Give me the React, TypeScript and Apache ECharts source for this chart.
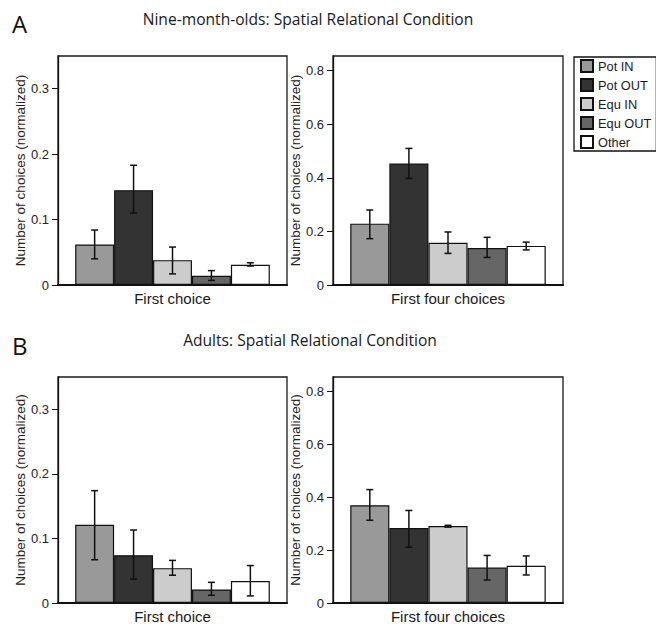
import React, { useEffect, useRef } from "react";
import * as echarts from "echarts";

const groups = ["Pot IN", "Pot OUT", "Equ IN", "Equ OUT", "Other"];
const groupColors = ["#999999", "#333333", "#cccccc", "#666666", "#ffffff"];

const infantFirst = [0.062, 0.145, 0.038, 0.014, 0.031];
const infantFirstLo = [0.040, 0.110, 0.017, 0.007, 0.029];
const infantFirstHi = [0.084, 0.183, 0.058, 0.022, 0.034];

const infantFour = [0.229, 0.454, 0.158, 0.138, 0.146];
const infantFourLo = [0.173, 0.398, 0.118, 0.103, 0.131];
const infantFourHi = [0.280, 0.510, 0.198, 0.178, 0.160];

const adultFirst = [0.121, 0.074, 0.054, 0.021, 0.034];
const adultFirstLo = [0.067, 0.037, 0.043, 0.012, 0.011];
const adultFirstHi = [0.174, 0.113, 0.066, 0.032, 0.058];

const adultFour = [0.370, 0.284, 0.291, 0.134, 0.141];
const adultFourLo = [0.313, 0.211, 0.287, 0.087, 0.106];
const adultFourHi = [0.429, 0.350, 0.294, 0.180, 0.178];

const xLabels = ["First choice", "First four choices"];
const leftTicks = [0, 0.1, 0.2, 0.3];
const rightTicks = [0, 0.2, 0.4, 0.6, 0.8];
const leftMax = 0.35;
const rightMax = 0.855;

const yName = "Number of choices (normalized)";
const titleA = "Nine-month-olds: Spatial Relational Condition";
const titleB = "Adults: Spatial Relational Condition";

const panels = [
  { vals: infantFirst, lo: infantFirstLo, hi: infantFirstHi, label: xLabels[0], max: leftMax, ticks: leftTicks },
  { vals: infantFour, lo: infantFourLo, hi: infantFourHi, label: xLabels[1], max: rightMax, ticks: rightTicks },
  { vals: adultFirst, lo: adultFirstLo, hi: adultFirstHi, label: xLabels[0], max: leftMax, ticks: leftTicks },
  { vals: adultFour, lo: adultFourLo, hi: adultFourHi, label: xLabels[1], max: rightMax, ticks: rightTicks },
];

const gridLayout = [
  { left: 58, top: 56, width: 229, height: 229 },
  { left: 333, top: 56, width: 230, height: 229 },
  { left: 58, top: 377, width: 229, height: 229 },
  { left: 333, top: 377, width: 230, height: 229 },
];

const CAT_GAP = 0.15;
const AXIS_FONT = "Liberation Sans";
const TITLE_FONT = "Open Sans";

export default function App() {
  const ref = useRef<HTMLDivElement>(null);
  useEffect(() => {
    document.body.style.margin = "0";
    const chart = echarts.init(ref.current!, null, { renderer: "svg" });

    const grid: any[] = [];
    const xAxis: any[] = [];
    const yAxis: any[] = [];
    const series: any[] = [];

    panels.forEach((p, pi) => {
      grid.push({
        ...gridLayout[pi],
        show: true,
        borderColor: "#1a1a1a",
        borderWidth: 1.3,
        backgroundColor: "transparent",
      });
      xAxis.push({
        type: "category",
        gridIndex: pi,
        data: [p.label],
        axisLine: { show: true, lineStyle: { color: "#111", width: 2 } },
        axisTick: { show: false },
        axisLabel: { fontSize: 15, color: "#1a1a1a", margin: 6, fontFamily: AXIS_FONT },
      });
      yAxis.push({
        type: "value",
        gridIndex: pi,
        min: 0,
        max: p.max,
        name: yName,
        nameLocation: "middle",
        nameGap: 25,
        nameTextStyle: { fontSize: 13.5, color: "#222", fontFamily: AXIS_FONT },
        axisLine: { show: true, lineStyle: { color: "#111", width: 1.3 } },
        axisTick: { show: true, length: 6, lineStyle: { color: "#111" }, customValues: p.ticks },
        axisLabel: {
          fontSize: 13,
          color: "#222",
          margin: 9,
          fontFamily: AXIS_FONT,
          customValues: p.ticks,
          formatter: (v: number) => (v === 0 ? "0" : v.toFixed(1)),
        },
        splitLine: { show: false },
      });
      groups.forEach((g, gi) => {
        series.push({
          type: "bar",
          name: g,
          xAxisIndex: pi,
          yAxisIndex: pi,
          data: [p.vals[gi]],
          barGap: "0%",
          barCategoryGap: CAT_GAP * 100 + "%",
          itemStyle: { color: groupColors[gi], borderColor: "#111", borderWidth: 1.2 },
          emphasis: { disabled: true },
          z: 2,
        });
      });
      series.push({
        type: "custom",
        xAxisIndex: pi,
        yAxisIndex: pi,
        silent: true,
        z: 10,
        encode: { x: 0, y: [1, 2] },
        data: groups.map((_, gi) => [0, p.lo[gi], p.hi[gi], gi]),
        renderItem: (params: any, api: any) => {
          const i = api.value(3);
          const a = api.coord([api.value(0), api.value(1)]);
          const b = api.coord([api.value(0), api.value(2)]);
          const band = api.size([1, 0])[0];
          const bw = (band * (1 - CAT_GAP)) / groups.length;
          const x = a[0] + (i - (groups.length - 1) / 2) * bw;
          const cap = 3.5;
          const st = { stroke: "#111", lineWidth: 1.5 };
          return {
            type: "group",
            children: [
              { type: "line", shape: { x1: x, y1: a[1], x2: x, y2: b[1] }, style: st },
              { type: "line", shape: { x1: x - cap, y1: a[1], x2: x + cap, y2: a[1] }, style: st },
              { type: "line", shape: { x1: x - cap, y1: b[1], x2: x + cap, y2: b[1] }, style: st },
            ],
          };
        },
      });
    });

    chart.setOption({
      animation: false,
      backgroundColor: "#ffffff",
      grid,
      xAxis,
      yAxis,
      series,
      legend: {
        data: groups,
        orient: "vertical",
        left: 574,
        top: 57,
        icon: "rect",
        itemWidth: 12,
        itemHeight: 12,
        itemGap: 5,
        padding: [2, 5, 2, 6],
        borderColor: "#111",
        borderWidth: 1.3,
        selectedMode: false,
        textStyle: { fontSize: 12.8, color: "#1a1a1a", fontFamily: AXIS_FONT },
      },
      graphic: [
        { type: "text", left: 12, top: 11, style: { text: "A", font: "24px " + TITLE_FONT, fill: "#111" } },
        { type: "text", left: 12, top: 333, style: { text: "B", font: "24px " + TITLE_FONT, fill: "#111" } },
        {
          type: "text",
          x: 308,
          y: 19,
          style: { text: titleA, font: "15.6px " + TITLE_FONT, fill: "#1a1a1a", textAlign: "center", textVerticalAlign: "middle" },
        },
        {
          type: "text",
          x: 310,
          y: 340,
          style: { text: titleB, font: "15.6px " + TITLE_FONT, fill: "#1a1a1a", textAlign: "center", textVerticalAlign: "middle" },
        },
      ],
    });
    return () => chart.dispose();
  }, []);
  return <div ref={ref} style={{ width: 656, height: 624 }} />;
}
